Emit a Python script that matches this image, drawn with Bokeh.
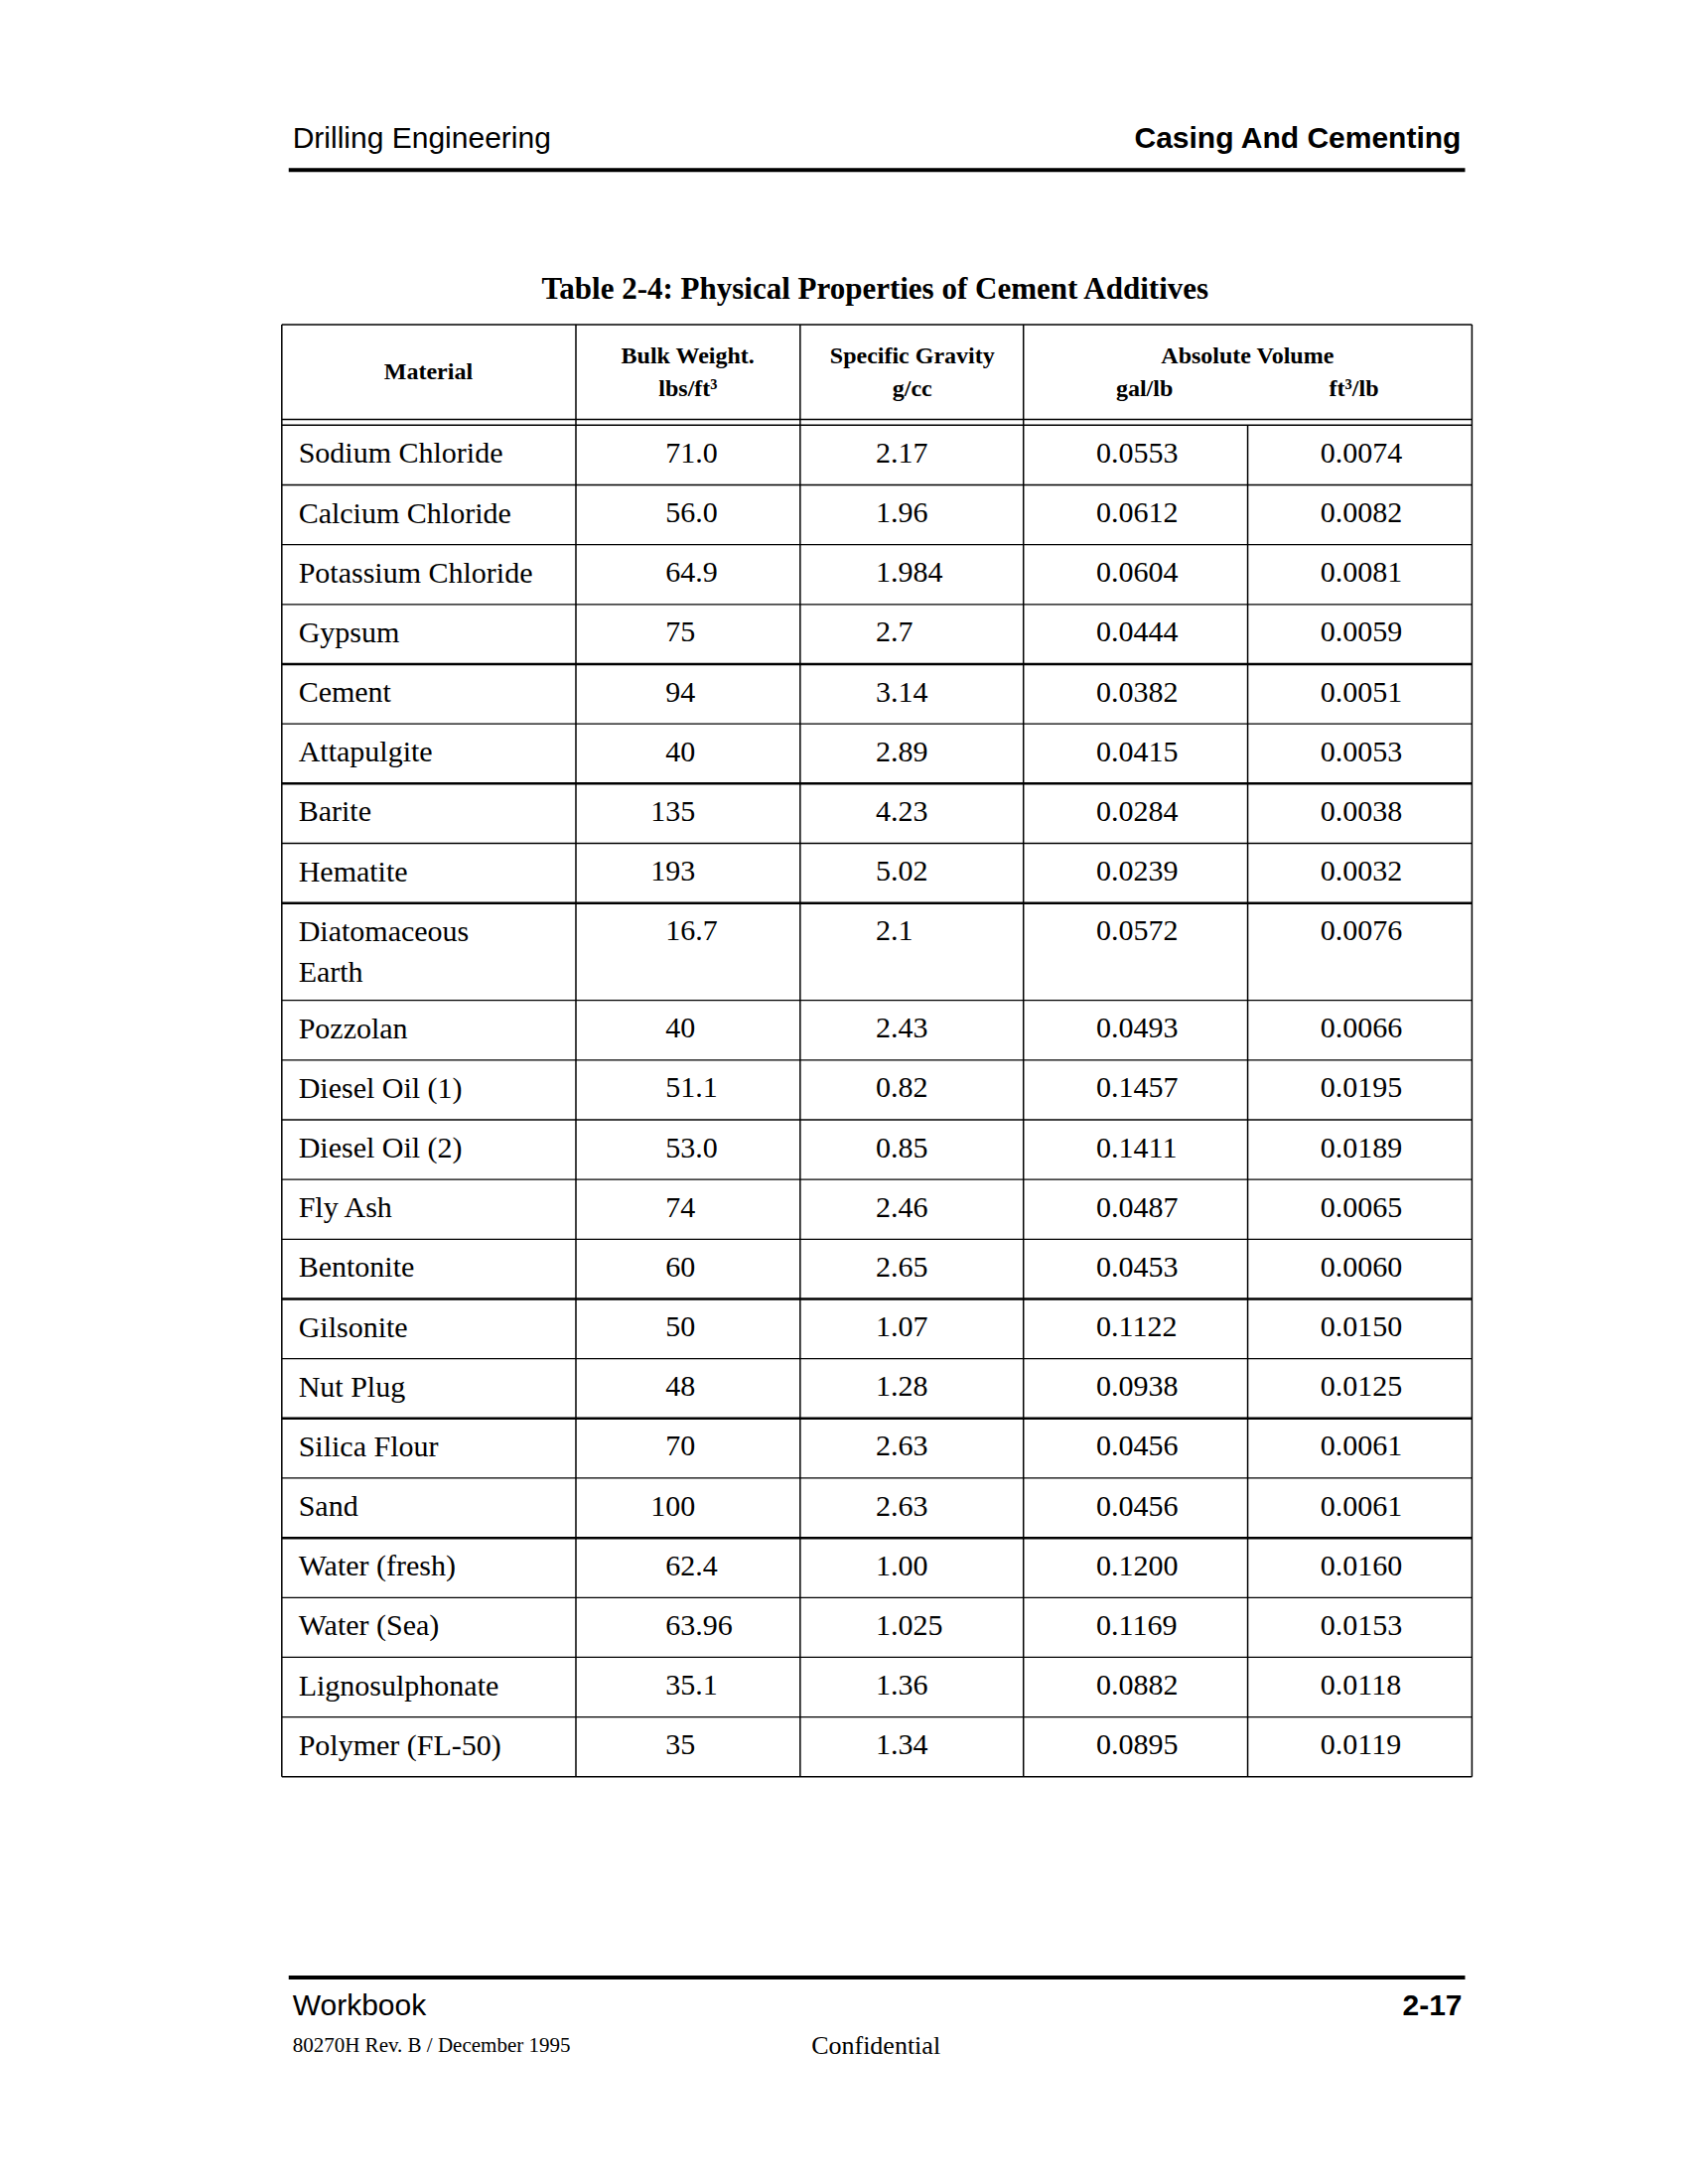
from bokeh.plotting import figure
from bokeh.embed import file_html
from bokeh.resources import INLINE
from bokeh.core.properties import value

materials = ["Sodium Chloride", "Calcium Chloride", "Potassium Chloride", "Gypsum", "Cement",
             "Attapulgite", "Barite", "Hematite", "Diatomaceous\nEarth", "Pozzolan",
             "Diesel Oil (1)", "Diesel Oil (2)", "Fly Ash", "Bentonite", "Gilsonite", "Nut Plug",
             "Silica Flour", "Sand", "Water (fresh)", "Water (Sea)", "Lignosulphonate",
             "Polymer (FL-50)"]
bulk_weight = ["71.0", "56.0", "64.9", "75", "94", "40", "135", "193", "16.7", "40", "51.1",
               "53.0", "74", "60", "50", "48", "70", "100", "62.4", "63.96", "35.1", "35"]
spec_gravity = ["2.17", "1.96", "1.984", "2.7", "3.14", "2.89", "4.23", "5.02", "2.1", "2.43",
                "0.82", "0.85", "2.46", "2.65", "1.07", "1.28", "2.63", "2.63", "1.00", "1.025",
                "1.36", "1.34"]
gal_per_lb = ["0.0553", "0.0612", "0.0604", "0.0444", "0.0382", "0.0415", "0.0284", "0.0239",
              "0.0572", "0.0493", "0.1457", "0.1411", "0.0487", "0.0453", "0.1122", "0.0938",
              "0.0456", "0.0456", "0.1200", "0.1169", "0.0882", "0.0895"]
ft3_per_lb = ["0.0074", "0.0082", "0.0081", "0.0059", "0.0051", "0.0053", "0.0038", "0.0032",
              "0.0076", "0.0066", "0.0195", "0.0189", "0.0065", "0.0060", "0.0150", "0.0125",
              "0.0061", "0.0061", "0.0160", "0.0153", "0.0118", "0.0119"]
# rows whose top border is drawn heavier
heavy_tops = [4, 6, 8, 14, 16, 18]

W, H = 1700, 2200
p = figure(width=1684, height=2184, x_range=(0, W), y_range=(H, 0), output_backend="svg",
           toolbar_location=None, min_border=0)
p.axis.visible = False
p.grid.visible = False
p.outline_line_color = None
p.background_fill_color = "white"

sans = value("Liberation Sans")
serif = value("Liberation Serif")

# page header / footer
p.text([297], [139], text=["Drilling Engineering"], text_font=sans, text_font_size="30px",
       text_baseline="middle")
p.text([1486], [139], text=["Casing And Cementing"], text_font=sans, text_font_size="30px",
       text_font_style="bold", text_align="right", text_baseline="middle")
p.segment([293], [172], [1489], [172], line_width=4, line_color="black")
p.segment([293], [2006], [1489], [2006], line_width=4, line_color="black")
p.text([297], [2034], text=["Workbook"], text_font=sans, text_font_size="30px",
       text_baseline="middle")
p.text([1486], [2034], text=["2-17"], text_font=sans, text_font_size="30px",
       text_font_style="bold", text_align="right", text_baseline="middle")
p.text([297], [2075], text=["80270H Rev. B / December 1995"], text_font=serif,
       text_font_size="21px", text_baseline="middle")
p.text([890], [2075], text=["Confidential"], text_font=serif, text_font_size="26px",
       text_align="center", text_baseline="middle")

# title
p.text([890], [292], text=["Table 2-4: Physical Properties of Cement Additives"], text_font=serif,
       text_font_size="31px", text_font_style="bold", text_align="center", text_baseline="middle")

# table geometry
xl, x1, x2, x3, x4, xr = 286, 585, 813, 1040, 1268, 1496
ht, hb = 329, 425
row_h = 60.6
tops = []
y = hb + 6
for m in materials:
    tops.append(y)
    y += row_h * (1.63 if "\n" in m else 1)
bottom = y

# header box
p.segment([xl, xl], [ht, hb], [xr, xr], [ht, hb], line_width=1.5, line_color="black")
p.segment([xl, x1, x2, x3, xr], [ht] * 5, [xl, x1, x2, x3, xr], [bottom] * 5,
          line_width=1.5, line_color="black")
p.segment([x4], [tops[0]], [x4], [bottom], line_width=1.5, line_color="black")
p.segment([xl, xl], [tops[0], bottom], [xr, xr], [tops[0], bottom], line_width=1.5,
          line_color="black")
for i, t in enumerate(tops[1:], start=1):
    p.segment([xl], [t], [xr], [t], line_width=2.5 if i in heavy_tops else 1.3,
              line_color="black")

hdr = dict(text_font=serif, text_font_size="24px", text_font_style="bold",
           text_align="center", text_baseline="middle")
p.text([435], [376], text=["Material"], **hdr)
p.text([699, 699], [360, 393], text=["Bulk Weight.", "lbs/ft³"], **hdr)
p.text([927, 927], [360, 393], text=["Specific Gravity", "g/cc"], **hdr)
p.text([1268, 1163, 1376], [360, 393, 393], text=["Absolute Volume", "gal/lb", "ft³/lb"], **hdr)

# body
body = dict(text_font=serif, text_font_size="30px", text_baseline="middle")
ys = [t + row_h / 2 - 2 for t in tops]
p.text([303] * len(materials), ys, text=materials, text_line_height=1.25,
       **dict(body, text_baseline="top"), y_offset=-17)
bw_x = [661 if ("." not in b and len(b) == 3) else 676 for b in bulk_weight]
p.text(bw_x, ys, text=bulk_weight, **body)
p.text([890] * len(ys), ys, text=spec_gravity, **body)
p.text([1114] * len(ys), ys, text=gal_per_lb, **body)
p.text([1342] * len(ys), ys, text=ft3_per_lb, **body)

open("out.html", "w").write(file_html(p, INLINE))
